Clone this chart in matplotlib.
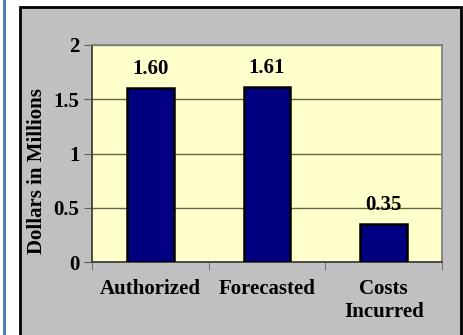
import matplotlib.pyplot as plt
from matplotlib.patches import Rectangle
from matplotlib.lines import Line2D

categories = ["Authorized", "Forecasted", "Costs\nIncurred"]
values = [1.60, 1.61, 0.35]
value_labels = ["1.60", "1.61", "0.35"]
yticks = [0, 0.5, 1, 1.5, 2]
ytick_labels = ["0", "0.5", "1", "1.5", "2"]

plt.rcParams["font.family"] = ["Liberation Serif", "DejaVu Serif"]
plt.rcParams["font.weight"] = "bold"

W, H = 464, 335
fig = plt.figure(figsize=(W / 100, H / 100), dpi=100)
fig.patch.set_facecolor("white")

# blue rule at the left edge
fig.add_artist(Line2D([4 / W, 4 / W], [0, 1], color="#4F81BD", lw=2.2, zorder=-2))
# gray frame with black border, running off the bottom
fig.add_artist(Rectangle((20 / W, -0.05), 441 / W, 1.05 - 7 / H,
                         facecolor="#C0C0C0", edgecolor="black", lw=2, zorder=-2))

ax = fig.add_axes([92 / W, 1 - 262 / H, 350 / W, 217 / H])
ax.set_zorder(2)
ax.set_facecolor("#FFFFCC")
x = range(len(categories))
ax.bar(x, values, width=0.4, color="#000080", edgecolor="black", lw=1.8, zorder=3)
ax.set_xlim(-0.5, 2.5)
ax.set_ylim(0, 2)
ax.set_yticks(yticks)
ax.set_yticklabels(ytick_labels, fontsize=15)
ax.set_xticks([-0.5, 0.5, 1.5, 2.5], minor=True)
ax.set_xticks(list(x))
ax.set_xticklabels(categories, fontsize=15, linespacing=1.2)
ax.tick_params(axis="x", which="major", length=0, pad=12)
ax.tick_params(axis="x", which="minor", length=6, color="#606060")
ax.tick_params(axis="y", length=6, color="#606060", pad=3)
ax.grid(axis="y", color="#666644", lw=1, zorder=1)
for s in ax.spines.values():
    s.set_color("#808080")
    s.set_linewidth(1.3)
ax.spines["left"].set_color("#404040")
ax.spines["bottom"].set_color("#404040")

for xi, v, lab in zip(x, values, value_labels):
    ax.annotate(lab, (xi, v), xytext=(0, 14), textcoords="offset points",
                ha="center", va="center", fontsize=15, fontweight="bold", zorder=4)

ax.set_ylabel("Dollars in Millions", fontsize=15, fontweight="bold")
ax.yaxis.set_label_coords(-0.128, 0.42)

fig.savefig("out.png", dpi=100)
